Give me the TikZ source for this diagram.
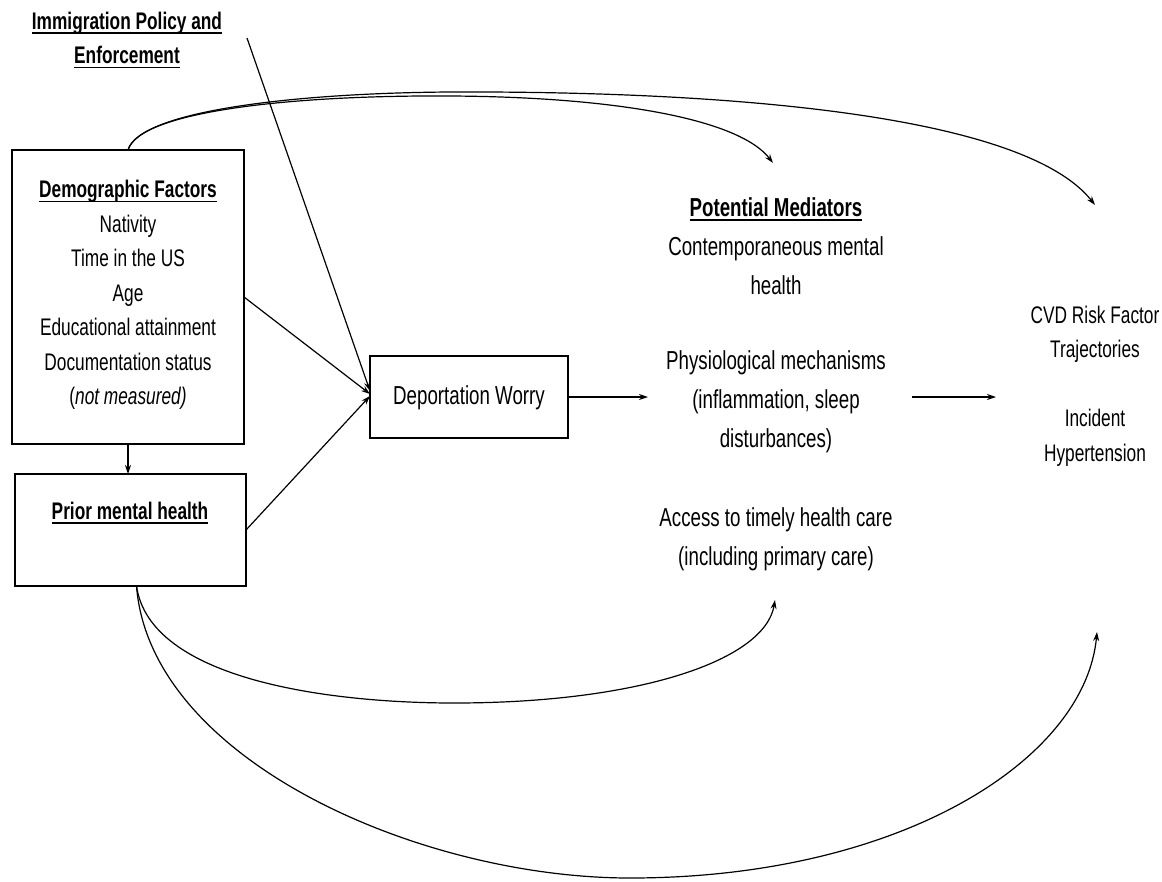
\documentclass[tikz,border=0pt]{standalone}
\usepackage{fontspec}
\setmainfont{Liberation Sans}[FakeStretch=0.72]
\newsavebox\myulbox
\newcommand{\myul}[1]{\sbox\myulbox{#1}\rlap{\rule[-4.5pt]{\wd\myulbox}{1.6pt}}\usebox\myulbox}
\usetikzlibrary{arrows.meta,calc}
\begin{document}
\begin{tikzpicture}[x=1pt,y=-1pt,
  line width=1.3pt,
  >={Stealth[length=9pt,width=6pt]},
  box/.style={draw,line width=1.4pt,inner sep=0pt,outer sep=0pt},
  small/.style={font=\fontsize{24}{34.5}\selectfont,align=center,inner sep=0pt},
  big/.style={font=\fontsize{26}{39.1}\selectfont,align=center,inner sep=0pt},
  link/.style={->,line width=1.2pt}]
\useasboundingbox (0,0) rectangle (1162,881);

% boxes
\node[box,minimum width=232pt,minimum height=294pt] (demo) at (128,297) {};
\node[box,minimum width=231pt,minimum height=112pt] (prior) at (130.5,530) {};
\node[box,minimum width=198pt,minimum height=82pt] (dep) at (469,397) {};

% texts
\node[small] (imm) at (127,40) {\myul{\textbf{Immigration Policy and}}\\\myul{\textbf{Enforcement}}};
\node[small] (demotxt) at (128,295) {\myul{\textbf{Demographic Factors}}\\Nativity\\Time in the US\\Age\\Educational attainment\\Documentation status\\(\textit{not measured)}};
\node[small] (priortxt) at (130,513) {\myul{\textbf{Prior mental health}}};
\node[big] (deptxt) at (469,398) {Deportation Worry};
\node[big] (medtop) at (776,246) {\myul{\textbf{Potential Mediators}}\\Contemporaneous mental\\health};
\node[big] (physio) at (776,402) {Physiological mechanisms\\(inflammation, sleep\\disturbances)};
\node[big] (access) at (776,539) {Access to timely health care\\(including primary care)};
\node[small] (cvd) at (1095,386) {CVD Risk Factor\\Trajectories\\[34.5pt]Incident\\Hypertension};

% free ends
\coordinate (impstart) at (247,38);
\coordinate (medin) at (648,397);
\coordinate (medout) at (912,397);
\coordinate (outin) at (996,397);
\coordinate (tA) at (773,163);
\coordinate (tB) at (1095,205);
\coordinate (tC) at (775,600);
\coordinate (tD) at (1097,632);

% straight connectors
\draw[link] (demo.south) -- (demo.south |- prior.north);
\draw[link] (impstart) -- ([yshift=6pt]dep.west);
\draw[link] (demo.east) -- ([yshift=3pt]dep.west);
\draw[link] (prior.east) -- ([yshift=1pt]dep.west);
\draw[link] (dep.east) -- (medin);
\draw[link] (medout) -- (outin);

% curved connectors
\draw[link] (demo.north) .. controls (140,110) and (300,95) .. (450,96) .. controls (620,97) and (740,120) .. (tA);
\draw[link] (demo.north) .. controls (140,110) and (300,93) .. (450,92) .. controls (700,91) and (1020,110) .. (tB);
\draw[link] ([xshift=6pt]prior.south) .. controls (150,680) and (330,703) .. (454,703) .. controls (640,703) and (765,660) .. (tC);
\draw[link] ([xshift=6pt]prior.south) .. controls (150,760) and (420,878) .. (630,878) .. controls (900,878) and (1085,760) .. (tD);
\end{tikzpicture}
\end{document}
